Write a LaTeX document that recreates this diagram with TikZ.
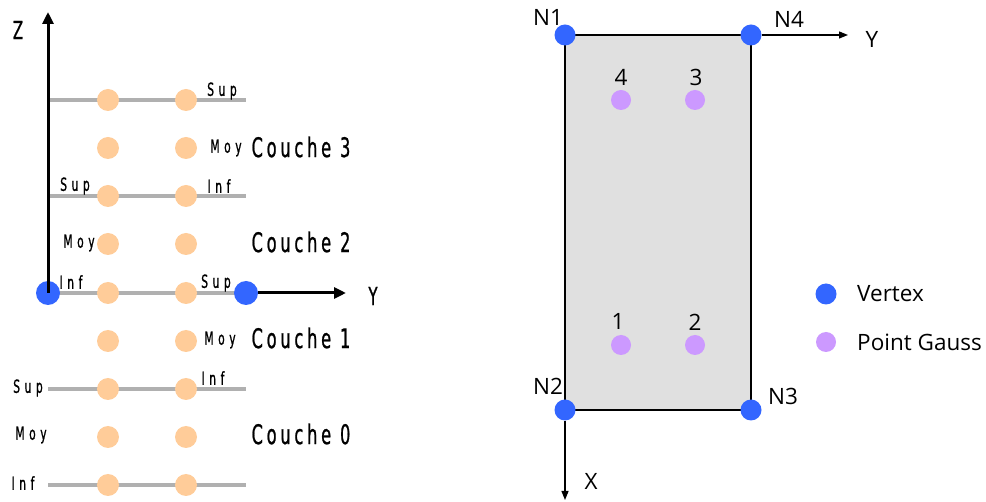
\documentclass[tikz,border=0pt]{standalone}
\usepackage{fontspec}
\usetikzlibrary{arrows.meta}
\newfontfamily\narrowbig[FakeStretch=0.6,LetterSpace=14,FakeBold=0.8]{DejaVu Sans}
\newfontfamily\narrowsmall[FakeStretch=0.6,LetterSpace=25,FakeBold=0.8]{DejaVu Sans}
\newfontfamily\plainsans{Open Sans}
\definecolor{gaussorange}{HTML}{FFCC99}
\definecolor{vertexblue}{HTML}{3366FF}
\definecolor{gausspurple}{HTML}{CC99FF}
\definecolor{layergray}{HTML}{B0B0B0}
\definecolor{cellgray}{HTML}{E0E0E0}
\tikzset{
  gpt/.style={circle,fill=gaussorange,inner sep=0pt,minimum size=22pt},
  vtx/.style={circle,fill=vertexblue,inner sep=0pt,minimum size=24pt},
  vtxs/.style={circle,fill=vertexblue,inner sep=0pt,minimum size=21pt},
  ppt/.style={circle,fill=gausspurple,inner sep=0pt,minimum size=20pt},
  layer/.style={draw=layergray,line width=4pt},
  axisbig/.style={line width=3pt,-{Triangle[length=12pt,width=11pt]}},
  axisthin/.style={line width=1.2pt,-{Triangle[length=9pt,width=7pt]}},
  tagsmall/.style={inner sep=0pt,font=\narrowsmall\fontsize{18}{20}\selectfont},
  tagbig/.style={inner sep=0pt,font=\narrowbig\fontsize{27}{30}\selectfont},
  tagaxis/.style={inner sep=0pt,font=\narrowbig\fontsize{25}{28}\selectfont},
  tagplain/.style={inner sep=0pt,font=\plainsans\fontsize{22.5}{26}\selectfont},
}
\begin{document}
\begin{tikzpicture}[x=1pt,y=-1pt]
\useasboundingbox (0,0) rectangle (986,502);

% ---------- layered section (left) ----------
\foreach \yy/\nm in {100/a,196/b,293/c,389/d,485/e}{
  \coordinate (L\nm w) at (48,\yy);
  \coordinate (L\nm e) at (246,\yy);
  \draw[layer] (L\nm w) -- (L\nm e);
}
\foreach \yy [count=\i] in {100,148,196,244,293,341,389,437,485}{
  \node[gpt] (g\i a) at (108,\yy) {};
  \node[gpt] (g\i b) at (186,\yy) {};
}
\coordinate (ztop) at (48,12);
\coordinate (yend) at (346,293);
\node[vtx] (O) at (48,293) {};
\node[vtx] (Oy) at (246,293) {};
\draw[axisbig] (O.center) -- (ztop);
\draw[axisbig] (Oy.east) -- (yend);
\node[tagaxis] (zlab) at (18,30) {Z};
\node[tagaxis] (ylab) at (373,296) {Y};

\node[tagsmall] (t1) at (222,91) {Sup};
\node[tagsmall] (t2) at (226,148) {Moy};
\node[tagsmall] (t3) at (75,186) {Sup};
\node[tagsmall] (t4) at (219,186) {Inf};
\node[tagsmall] (t5) at (79,243) {Moy};
\node[tagsmall] (t6) at (71,282) {Inf};
\node[tagsmall] (t7) at (216,283) {Sup};
\node[tagsmall] (t8) at (220,340) {Moy};
\node[tagsmall] (t9) at (28,388) {Sup};
\node[tagsmall] (t10) at (213,378) {Inf};
\node[tagsmall] (t11) at (31,435) {Moy};
\node[tagsmall] (t12) at (23,483) {Inf};

\node[tagbig] (c3) at (301,147) {Couche 3};
\node[tagbig] (c2) at (301,242) {Couche 2};
\node[tagbig] (c1) at (301,338) {Couche 1};
\node[tagbig] (c0) at (301,434) {Couche 0};

% ---------- element in plane (right) ----------
\draw[fill=cellgray,line width=1.5pt] (565,35) rectangle (751,410);
\node[vtxs] (N1) at (565,35) {};
\node[vtxs] (N4) at (751,35) {};
\node[vtxs] (N2) at (565,410) {};
\node[vtxs] (N3) at (751,410) {};
\coordinate (yax) at (848,35);
\coordinate (xax) at (565,500);
\draw[axisthin] (N4.east) -- (yax);
\draw[axisthin] (N2.south) -- (xax);
\node[tagplain] (lY) at (872,39) {Y};
\node[tagplain] (lX) at (591,481) {X};
\node[tagplain] (lN1) at (548,17) {N1};
\node[tagplain] (lN4) at (789,19) {N4};
\node[tagplain] (lN2) at (548,386) {N2};
\node[tagplain] (lN3) at (783,396) {N3};

\node[ppt] (p4) at (621,100) {};
\node[ppt] (p3) at (695,100) {};
\node[ppt] (p1) at (621,345) {};
\node[ppt] (p2) at (695,345) {};
\node[tagplain] (l4) at (621,77) {4};
\node[tagplain] (l3) at (696,77) {3};
\node[tagplain] (l1) at (618,321) {1};
\node[tagplain] (l2) at (695,322) {2};

% legend
\node[vtxs] (kv) at (826,294) {};
\node[ppt] (kp) at (826,342) {};
\node[tagplain,anchor=west] (kvt) at (857,294) {Vertex};
\node[tagplain,anchor=west] (kpt) at (857,342) {Point Gauss};
\end{tikzpicture}
\end{document}
